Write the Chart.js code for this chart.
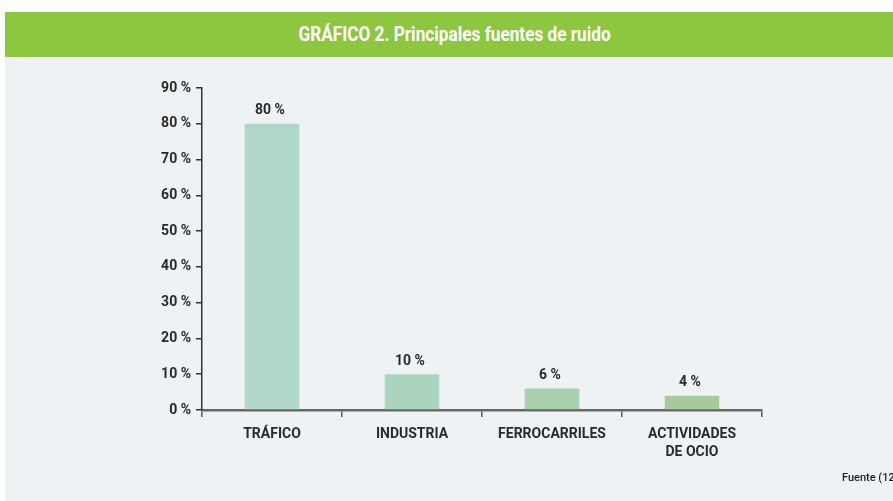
<!DOCTYPE html>
<html lang="es">
<head>
  <meta charset="UTF-8">
  <title>Principales fuentes de ruido</title>
  <style>
    html, body { margin: 0; padding: 0; background: #fff; }
    body { width: 893px; height: 501px; position: relative; overflow: hidden;
      font-family: Roboto, "Liberation Sans", sans-serif; }
    .header { position: absolute; left: 5px; top: 12px; width: 888px; height: 45px;
      background: #8dc63f; color: #fff; font-weight: bold; font-size: 20px;
      text-align: center; line-height: 45px; }
    .header span { display: inline-block; transform: scaleX(0.86); margin-left: 12px; }
    .panel { position: absolute; left: 5px; top: 57px; width: 888px; height: 444px; background: #eff2f4; }
    .chart { position: absolute; left: 0; top: 0; width: 893px; height: 501px; }
    .fuente { position: absolute; left: 842px; top: 471px; font-size: 11px; font-weight: 500; color: #222; white-space: nowrap; }
  </style>
</head>
<body>
  <div class="header"><span>GRÁFICO 2. Principales fuentes de ruido</span></div>
  <div class="panel"></div>
  <div class="chart"><canvas id="chart"></canvas></div>
  <div class="fuente">Fuente (12)</div>

  <script src="https://cdn.jsdelivr.net/npm/chart.js@4/dist/chart.umd.min.js"></script>
  <script>
    const categories = ['TRÁFICO', 'INDUSTRIA', 'FERROCARRILES', ['ACTIVIDADES', 'DE OCIO']];
    const values = [80, 10, 6, 4];
    const barColors = ['#b1d7ca', '#abd4bf', '#a7cfae', '#a6ca98'];
    const yTicks = [0, 10, 20, 30, 40, 50, 60, 70, 80, 90];

    const font = 'Roboto, "Liberation Sans", sans-serif';
    const context = document.querySelector('#chart').getContext('2d');

    // etiquetas de valor encima de cada barra
    const valueLabels = {
      id: 'valueLabels',
      afterDatasetsDraw(chart) {
        const ctx = chart.ctx;
        const meta = chart.getDatasetMeta(0);
        ctx.save();
        ctx.font = 'bold 14px ' + font;
        ctx.fillStyle = '#2a2a2a';
        ctx.textAlign = 'center';
        ctx.textBaseline = 'bottom';
        meta.data.forEach((bar, i) => {
          ctx.fillText(values[i] + ' %', bar.x - 2, bar.y - 6);
        });
        ctx.restore();
      }
    };

    new Chart(context, {
      type: 'bar',
      data: {
        labels: categories,
        datasets: [{
          data: values,
          backgroundColor: barColors,
          barPercentage: 0.39,
          categoryPercentage: 1
        }]
      },
      options: {
        responsive: true,
        maintainAspectRatio: false,
        animation: false,
        layout: { padding: { left: 142, right: 131, top: 88, bottom: 31 } },
        plugins: { legend: { display: false }, tooltip: { enabled: false } },
        scales: {
          x: {
            afterFit(scale) { scale.height = 60; },
            grid: { display: true, drawOnChartArea: false, offset: true, tickLength: 7, color: '#555', lineWidth: 1.5 },
            border: { color: '#666', width: 2.5 },
            ticks: { color: '#2a2a2a', font: { family: font, size: 14, weight: 'bold', lineHeight: 1.3 }, padding: 8, maxRotation: 0 }
          },
          y: {
            min: 0,
            max: 90,
            afterFit(scale) { scale.width = 60; },
            afterBuildTicks(scale) { scale.ticks = yTicks.map(v => ({ value: v })); },
            grid: { display: true, drawOnChartArea: false, tickLength: 6, color: '#333', lineWidth: 1.5 },
            border: { color: '#333', width: 1.5 },
            ticks: {
              color: '#2a2a2a',
              font: { family: font, size: 14, weight: 'bold' },
              padding: 5,
              callback: v => v + ' %'
            }
          }
        }
      },
      plugins: [valueLabels]
    });
  </script>
</body>
</html>
